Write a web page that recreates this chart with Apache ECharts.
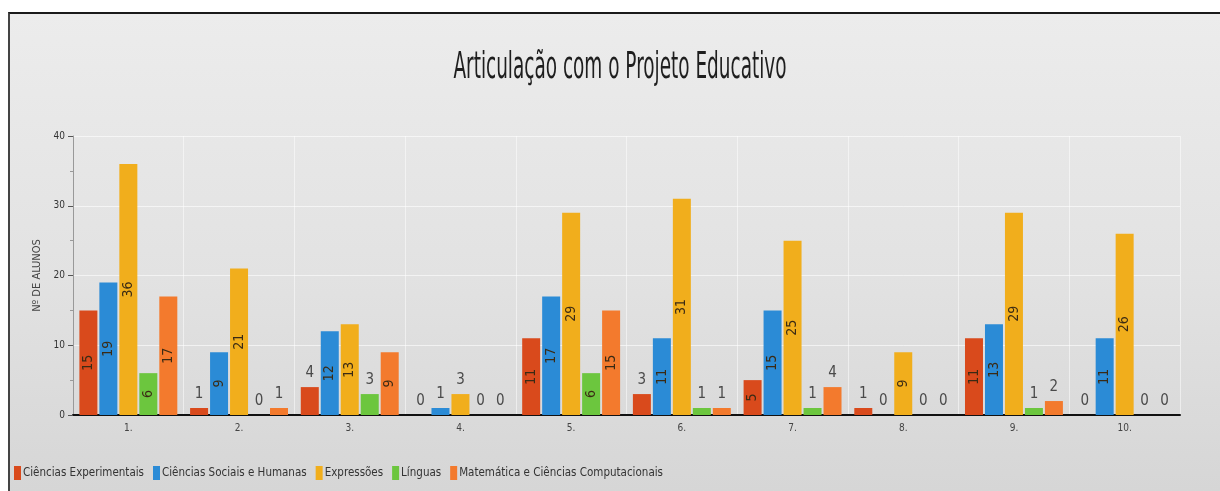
<!DOCTYPE html>
<html>
<head>
<meta charset="utf-8">
<script src="https://cdn.jsdelivr.net/npm/echarts@6/dist/echarts.min.js"></script>
<style>
  html, body { margin: 0; padding: 0; background: #fff; }
  .frame {
    position: absolute; left: 8px; top: 12px; width: 1212px; height: 479px;
    border-top: 2px solid #1a1a1a; border-left: 2px solid #444;
    box-sizing: border-box;
    background: linear-gradient(to bottom, #ececec 0%, #e2e2e2 55%, #d6d6d6 100%);
  }
  #chart { position: absolute; left: 0; top: 0; width: 1220px; height: 491px; }
</style>
</head>
<body>
<div class="frame"></div>
<div id="chart"></div>
<script>
  const categories = ["1.", "2.", "3.", "4.", "5.", "6.", "7.", "8.", "9.", "10."];
  const seriesNames = [
    "Ciências Experimentais",
    "Ciências Sociais e Humanas",
    "Expressões",
    "Línguas",
    "Matemática e Ciências Computacionais"
  ];
  const experimentais = [15, 1, 4, 0, 11, 3, 5, 1, 11, 0];
  const sociais = [19, 9, 12, 1, 17, 11, 15, 0, 13, 11];
  const expressoes = [36, 21, 13, 3, 29, 31, 25, 9, 29, 26];
  const linguas = [6, 0, 3, 0, 6, 1, 1, 0, 1, 0];
  const matematica = [17, 1, 9, 0, 15, 1, 4, 0, 2, 0];
  const colors = ["#d94a1c", "#2b8bd6", "#f1ae1c", "#6cc63e", "#f37a2d"];
  const yTicks = [0, 10, 20, 30, 40];
  const titleText = "Articulação com o Projeto Educativo";

  const font = "'Liberation Sans Narrow', 'DejaVu Sans Condensed', 'Noto Sans', sans-serif";

  // big values go inside the bar turned on their side, small ones sit on top
  function labelled(values) {
    return values.map(function (v) {
      if (v >= 5) {
        return {
          value: v,
          label: { show: true, position: "inside", rotate: 90, color: "#3a2a14", fontSize: 14, fontFamily: font }
        };
      }
      return {
        value: v,
        label: { show: true, position: "top", distance: 6, color: "#4a4a4a", fontSize: 15, fontFamily: font }
      };
    });
  }

  const allValues = [experimentais, sociais, expressoes, linguas, matematica];

  const chart = echarts.init(document.getElementById("chart"));
  chart.setOption({
    animation: false,
    color: colors,
    // the original title is a very narrow face, so squeeze a normal one
    graphic: [{
      type: "text",
      x: 620,
      y: 68,
      scaleX: 0.54,
      style: {
        text: titleText,
        textAlign: "center",
        textVerticalAlign: "middle",
        font: "38px " + font,
        fill: "#1e1e1e"
      }
    }],
    legend: {
      left: 9,
      bottom: 6,
      itemWidth: 7,
      itemHeight: 14,
      itemGap: 9,
      icon: "rect",
      textStyle: { fontFamily: font, fontSize: 11.5, color: "#333", padding: [0, 0, 0, -3] },
      data: seriesNames
    },
    grid: { left: 73, right: 40, top: 136, bottom: 76 },
    xAxis: {
      type: "category",
      data: categories,
      axisLine: { lineStyle: { color: "#111", width: 2 } },
      axisTick: { alignWithLabel: true, length: 4, lineStyle: { color: "#777" } },
      axisLabel: { fontFamily: font, fontSize: 10, color: "#444", margin: 8 },
      splitLine: { show: true, lineStyle: { color: "rgba(255,255,255,0.5)" } }
    },
    yAxis: {
      type: "value",
      min: 0,
      max: yTicks[yTicks.length - 1],
      interval: 10,
      name: "Nº DE ALUNOS",
      nameLocation: "middle",
      nameGap: 22,
      nameTextStyle: { fontFamily: font, fontSize: 11, color: "#444" },
      axisLine: { show: true, lineStyle: { color: "#999" } },
      axisTick: { show: true, length: 5, lineStyle: { color: "#555" } },
      minorTick: { show: true, splitNumber: 2, length: 3, lineStyle: { color: "#999" } },
      axisLabel: { fontFamily: font, fontSize: 10, color: "#333", margin: 8 },
      splitLine: { show: true, lineStyle: { color: "rgba(255,255,255,0.6)" } }
    },
    series: seriesNames.map(function (name, i) {
      return {
        name: name,
        type: "bar",
        barWidth: 18,
        barGap: "11%",
        data: labelled(allValues[i])
      };
    })
  });
</script>
</body>
</html>
